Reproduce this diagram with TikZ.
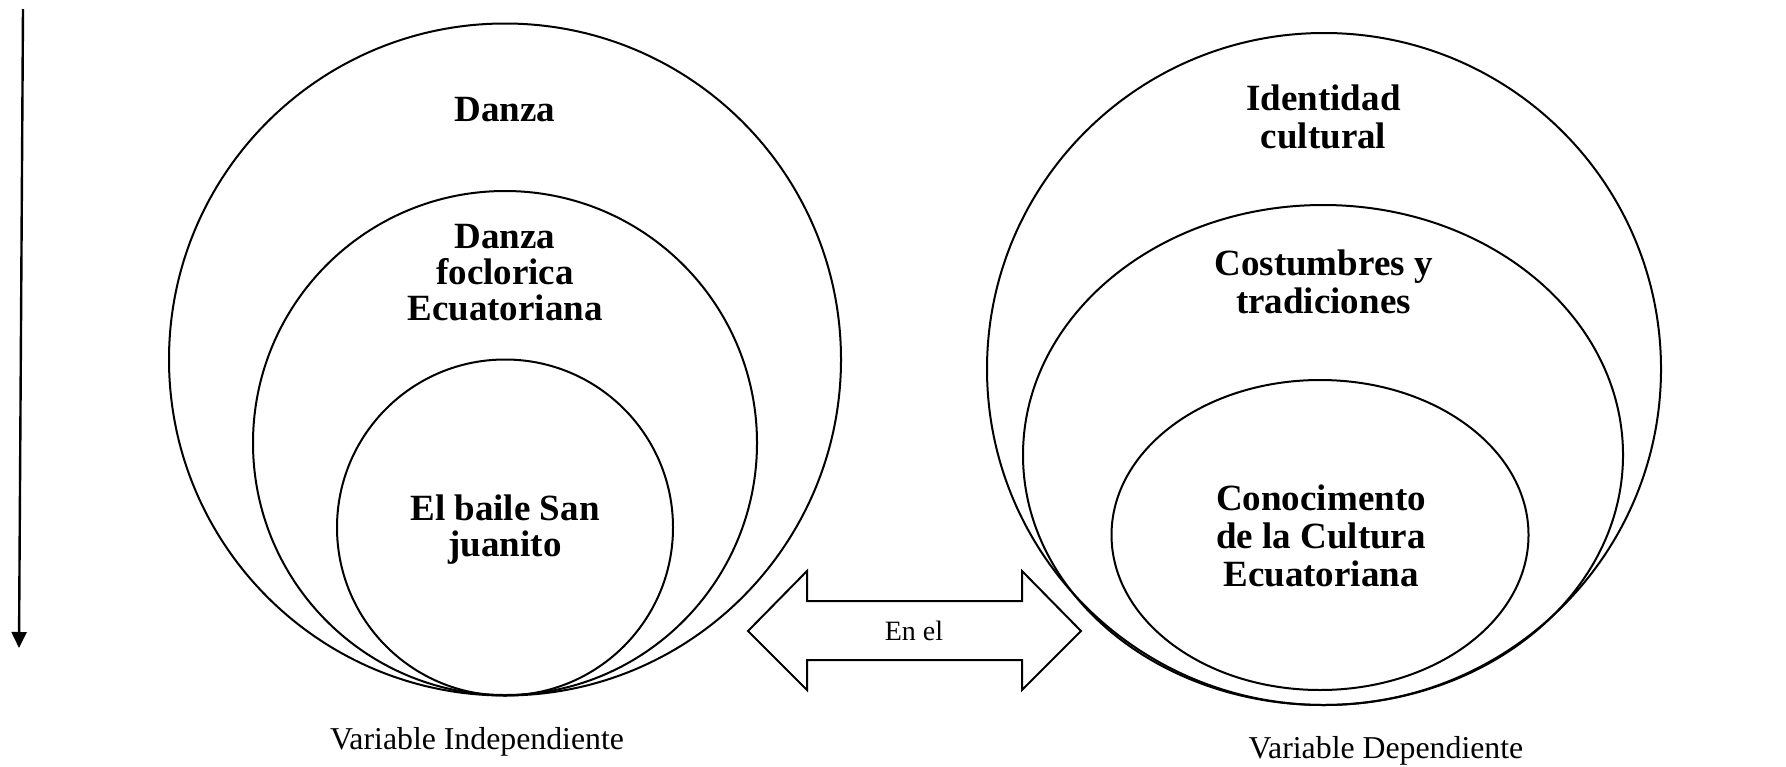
\documentclass[tikz,border=0pt]{standalone}
\usepackage{fontspec}
\setmainfont{Liberation Serif}
\usetikzlibrary{arrows.meta}
\begin{document}
\begin{tikzpicture}[x=0.5pt,y=-0.5pt,
  ring/.style={draw=black,line width=1pt},
  title/.style={font=\fontsize{18.5}{18}\selectfont\bfseries,align=center,inner sep=0pt},
  varlabel/.style={font=\fontsize{15.9}{18}\selectfont,inner sep=0pt},
  smalltext/.style={font=\fontsize{14}{16}\selectfont,inner sep=0pt}]
\useasboundingbox (0,0) rectangle (1786,766);
% left vertical arrow
\coordinate (atop) at (23,9);
\coordinate (abot) at (19,648);
\draw[line width=1.2pt,-{Triangle[length=8pt,width=7.5pt]}] (atop) -- (abot);
% left circles
\draw[ring] (505,359.5) circle[radius=336];
\draw[ring] (505,443) circle[radius=252];
\draw[ring] (505,527.5) circle[radius=168];
\node[title] (danza) at (505,110) {Danza};
\node[title] (folk) at (505,273) {Danza\\foclorica\\Ecuatoriana};
\node[title] (baile) at (505,530) {El baile San\\juanito};
\node[varlabel] (vi) at (477,742) {Variable Independiente};
% right ellipses
\draw[ring] (1324,369) ellipse[x radius=337,y radius=336];
\draw[ring] (1323,455) ellipse[x radius=300,y radius=250];
\draw[ring] (1320,535) ellipse[x radius=208.5,y radius=155];
\node[title,font=\fontsize{18.5}{19}\selectfont\bfseries] (iden) at (1323.5,117) {Identidad\\cultural};
\node[title,font=\fontsize{18.5}{19}\selectfont\bfseries] (cost) at (1323.5,282) {Costumbres y\\tradiciones};
\node[title,font=\fontsize{18.5}{19}\selectfont\bfseries] (cono) at (1321,536) {Conocimento\\de la Cultura\\Ecuatoriana};
\node[varlabel] (vd) at (1386,751) {Variable Dependiente};
% double arrow
\draw[line width=1pt,line join=miter]
  (748,631) -- (807,571) -- (807,601) -- (1022,601) -- (1022,571) -- (1081,631)
  -- (1022,690) -- (1022,660) -- (807,660) -- (807,690) -- cycle;
\node[smalltext] (enel) at (914,631) {En el};
\end{tikzpicture}
\end{document}
